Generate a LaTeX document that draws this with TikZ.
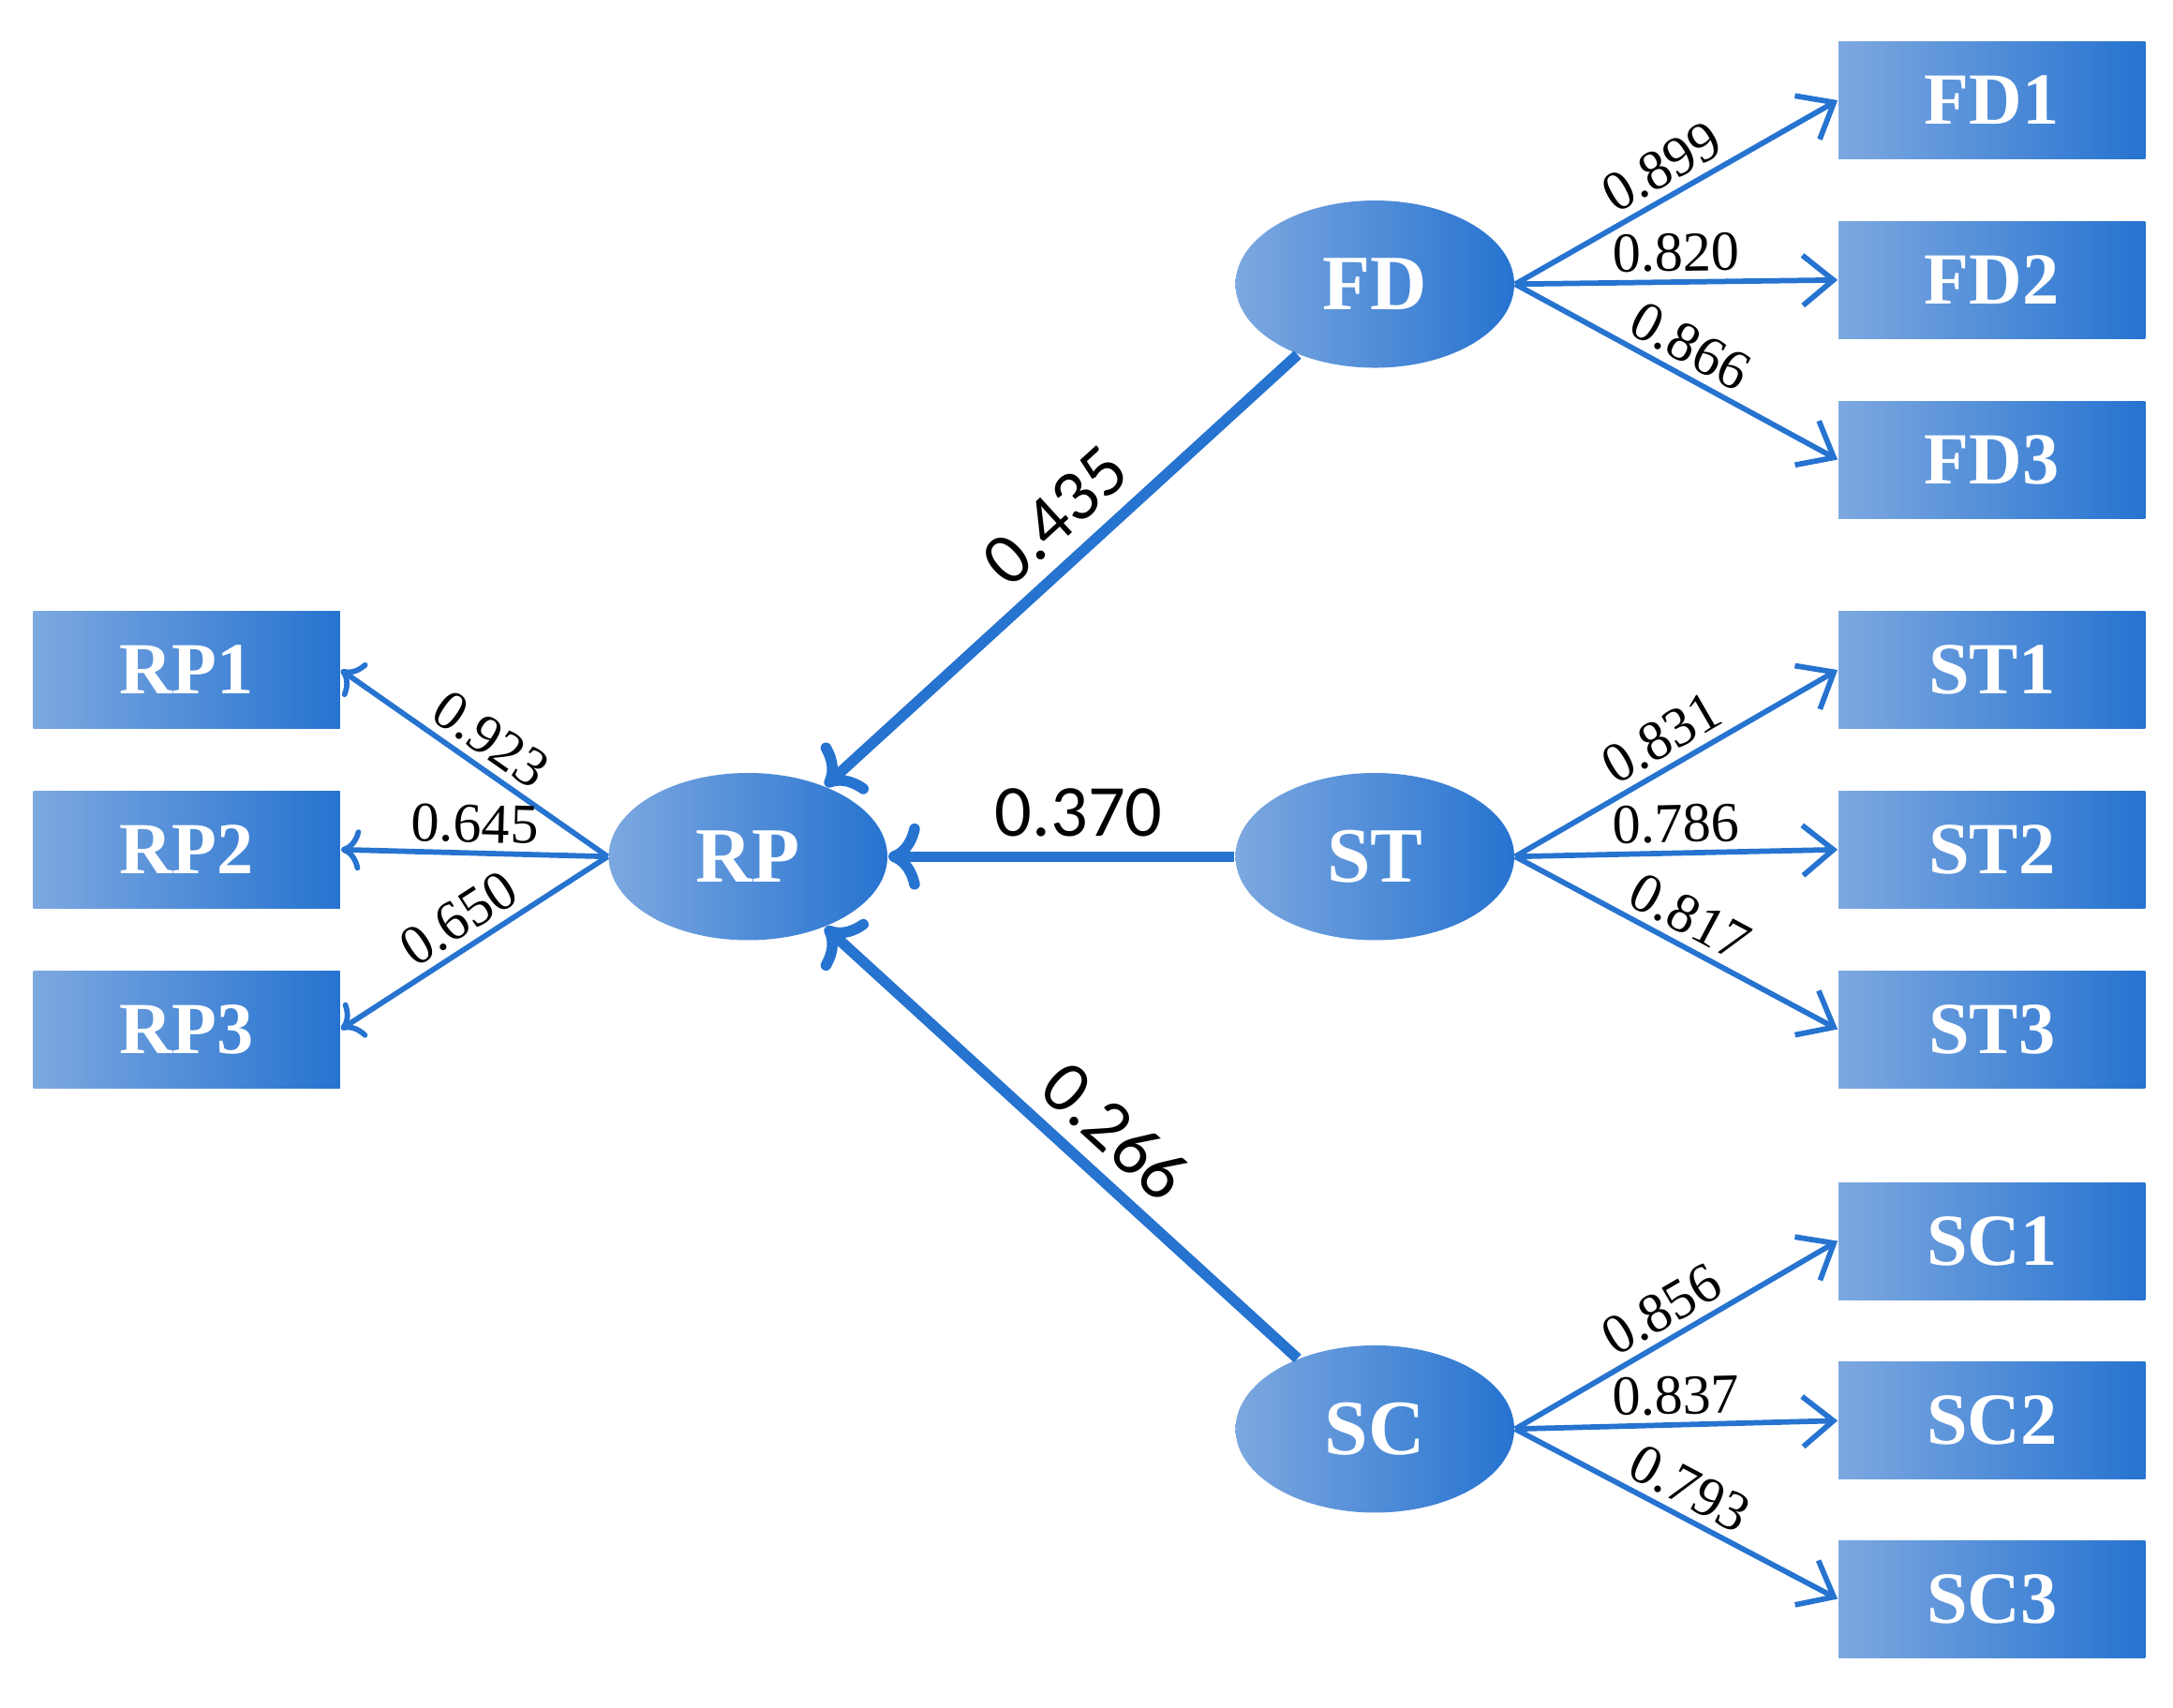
\documentclass[tikz,border=0pt]{standalone}
\usepackage{fontspec}
\setmainfont{Liberation Serif}
\newfontfamily\pathfont{Carlito}
\usepackage{tikz}
\usetikzlibrary{arrows.meta,shapes.geometric}
\definecolor{blueDark}{RGB}{38,115,208}
\definecolor{blueLight}{RGB}{125,168,224}
\begin{document}
\begin{tikzpicture}[x=0.01cm,y=-0.01cm,
	item/.style={rectangle,minimum width=2.2cm,minimum height=0.84cm,left color=blueLight,right color=blueDark,text=white,font=\fontsize{15}{17}\selectfont\bfseries,inner sep=0pt},
	latent/.style={ellipse,minimum width=2cm,minimum height=1.2cm,left color=blueLight,right color=blueDark,text=white,font=\fontsize{16}{18}\selectfont\bfseries,inner sep=0pt},
	load/.style={draw=blueDark,line width=1.1pt,-{Straight Barb[length=2.2mm,width=3.6mm]}},
	path/.style={draw=blueDark,line width=2.2pt,-{Straight Barb[length=3mm,width=5mm,line width=2pt]}},
	lab/.style={font=\fontsize{11.5}{13}\selectfont,sloped,above,inner sep=1.5pt},
	plab/.style={font=\pathfont\fontsize{15}{17}\selectfont,sloped,above,inner sep=3pt}]
		\useasboundingbox (0,0) rectangle (1560,1226);
		\node[latent] (RP) at (537,615) {RP};
		\node[latent] (FD) at (987,204) {FD};
		\node[latent] (ST) at (987,615) {ST};
		\node[latent] (SC) at (987,1026) {SC};
		\node[item] (FD1) at (1430,72) {FD1};
		\node[item] (FD2) at (1430,201) {FD2};
		\node[item] (FD3) at (1430,330) {FD3};
		\node[item] (ST1) at (1430,481) {ST1};
		\node[item] (ST2) at (1430,610) {ST2};
		\node[item] (ST3) at (1430,739) {ST3};
		\node[item] (SC1) at (1430,891) {SC1};
		\node[item] (SC2) at (1430,1020) {SC2};
		\node[item] (SC3) at (1430,1148) {SC3};
		\node[item] (RP1) at (134,481) {RP1};
		\node[item] (RP2) at (134,610) {RP2};
		\node[item] (RP3) at (134,739) {RP3};
		% outer loadings
		\draw[load] (FD.east) -- node[lab]{0.899} (FD1.west);
		\draw[load] (FD.east) -- node[lab]{0.820} (FD2.west);
		\draw[load] (FD.east) -- node[lab]{0.866} (FD3.west);
		\draw[load] (ST.east) -- node[lab]{0.831} (ST1.west);
		\draw[load] (ST.east) -- node[lab]{0.786} (ST2.west);
		\draw[load] (ST.east) -- node[lab]{0.817} (ST3.west);
		\draw[load] (SC.east) -- node[lab]{0.856} (SC1.west);
		\draw[load] (SC.east) -- node[lab]{0.837} (SC2.west);
		\draw[load] (SC.east) -- node[lab]{0.793} (SC3.west);
		\draw[load,<-] (RP1.east) -- node[lab]{0.923} (RP.west);
		\draw[load,<-] (RP2.east) -- node[lab]{0.645} (RP.west);
		\draw[load,<-] (RP3.east) -- node[lab]{0.650} (RP.west);
		% path coefficients
		\draw[path,<-] (RP) -- node[plab,pos=0.55]{0.435} (FD);
		\draw[path,<-] (RP) -- node[plab,pos=0.55]{0.370} (ST);
		\draw[path,<-] (RP) -- node[plab,pos=0.55]{0.266} (SC);
\end{tikzpicture}
\end{document}
